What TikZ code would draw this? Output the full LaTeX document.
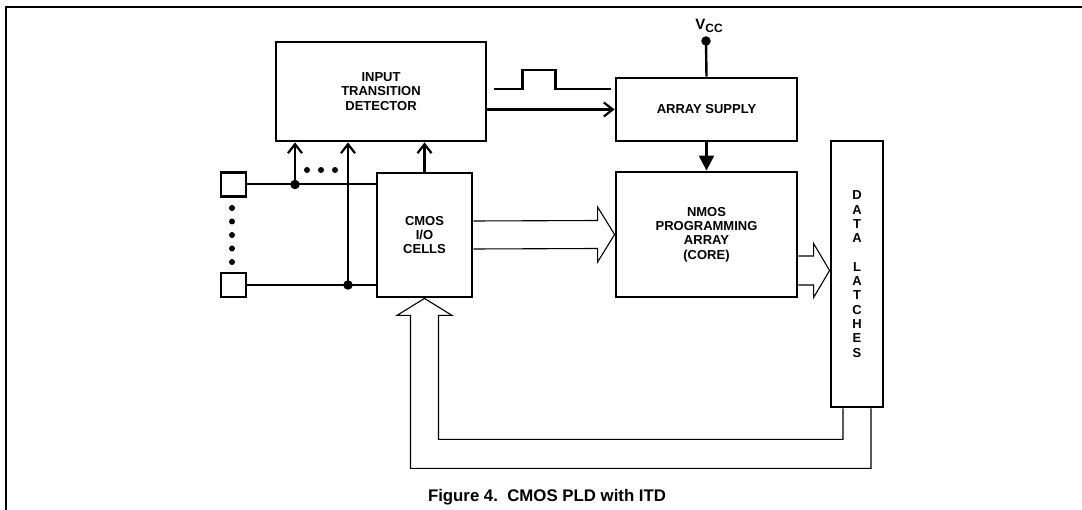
\documentclass[tikz,border=0pt]{standalone}
\usepackage{fontspec}
\setmainfont{Liberation Sans}
\usetikzlibrary{positioning,calc,arrows.meta}

\begin{document}
\begin{tikzpicture}[
    x=1pt, y=-1pt,
    every node/.style={font=\bfseries\fontsize{13}{14.3}\selectfont},
    block/.style={
        draw,
        line width=2.8pt,
        align=center,
        inner sep=0pt
    },
    pad/.style={draw, line width=2.4pt, minimum width=25, minimum height=24, inner sep=0pt},
    junction/.style={circle, fill, inner sep=0pt, minimum size=9.5pt},
    smalldot/.style={circle, fill, inner sep=0pt, minimum size=6pt},
    wire/.style={line width=2pt},
    arrow/.style={line width=2.2pt, -{Straight Barb[length=9pt,width=14pt]}},
    feed/.style={line width=2.2pt, -{Triangle[length=15pt,width=15pt]}},
    bus/.style={line width=1.1pt, line join=miter}
]
\useasboundingbox (0,0) rectangle (1082,510);

% frame
\draw[line width=2.8pt] (1082,7) -- (6,7) -- (6,510);

% upper row
\node[block, minimum width=210, minimum height=99] (itd) at (381,91.5)
    {INPUT\\TRANSITION\\DETECTOR};

\node[block, minimum width=181, minimum height=63] (supply) at (706.5,109.5)
    {ARRAY SUPPLY};

\node[junction] (vcc) at (706,41) {};
\node[above=0pt of vcc, xshift=3pt] (vcclabel)
    {{\fontsize{15}{15}\selectfont V}\raisebox{-2.5pt}{\fontsize{12}{12}\selectfont CC}};

% middle row
\node[pad] (pad1) at (233.5,184.5) {};
\node[pad] (pad2) at (233.5,285) {};

\node[block, minimum width=95, minimum height=124] (cmos) at (424.5,235)
    {CMOS\\I/O\\CELLS};

\node[block, minimum width=181, minimum height=125] (nmos) at (706.5,234.5)
    {NMOS\\PROGRAMMING\\ARRAY\\(CORE)};

\node[block, minimum width=52, minimum height=266] (latch) at (857,274)
    {D\\A\\T\\A\\[14.3pt]L\\A\\T\\C\\H\\E\\S};

% dots between the pads and between the taps
\foreach \i/\y in {1/208,2/221.5,3/235,4/248.5,5/262}
    \node[smalldot] (vdot\i) at (232,\y) {};
\foreach \i/\x in {1/307,2/321,3/335}
    \node[smalldot] (hdot\i) at (\x,170) {};

% pad wires and taps
\draw[wire] (pad1.east) -- (cmos.west |- pad1.east);
\draw[wire] (pad2.east) -- (cmos.west |- pad2.east);
\node[junction] (j1) at (295,184.5) {};
\node[junction] (j2) at (348,285) {};
\draw[arrow] (j1.center) -- (j1 |- itd.south);
\draw[arrow] (j2.center) -- (j2 |- itd.south);
\draw[arrow] (cmos.north) -- (cmos.north |- itd.south);

% itd pulse into the supply
\draw[wire, line width=2.4pt] ($(itd.east)+(7,-2.5)$) -- ++(28,0) -- ++(0,-19) -- ++(33,0) -- ++(0,19) -- ++(56,0);
\draw[arrow] (itd.east |- supply.west) -- (supply.west);
\draw[wire, line width=2.4pt] (vcc.center) -- (supply.north);
\draw[feed] (supply.south) -- (nmos.north);

% wide buses
\draw[bus] ($(cmos.east)+(0,-14)$) -- ($(nmos.west)+(-17,-14)$) -- ++(0,-13.5)
    -- (nmos.west) -- ($(nmos.west)+(-17,27.5)$) -- ++(0,-13.5) -- ($(cmos.east)+(0,14)$);

\coordinate (bustail) at ($(nmos.east)+(0,36)$);
\coordinate (bustip) at (latch.west |- bustail);
\draw[bus] ($(bustail)+(0,-14.5)$) -- ($(bustip)+(-16,-14.5)$) -- ++(0,-12.5)
    -- (bustip) -- ($(bustip)+(-16,27)$) -- ++(0,-12.5) -- ($(bustail)+(0,14.5)$);

% feedback from the latches to the i/o cells
\draw[bus] ($(latch.south)+(-14,0)$) -- ++(0,31) -| ($(cmos.south)+(14,17)$) -- ++(13.5,0)
    -- (cmos.south) -- ($(cmos.south)+(-27.5,17)$) -- ++(13.5,0)
    |- ($(latch.south)+(14,60)$) -- ($(latch.south)+(14,0)$);

% caption
\node[font=\bfseries\fontsize{16.8}{19}\selectfont] (caption) at (547,497) {Figure 4.\ \ CMOS PLD with ITD};
\end{tikzpicture}
\end{document}
